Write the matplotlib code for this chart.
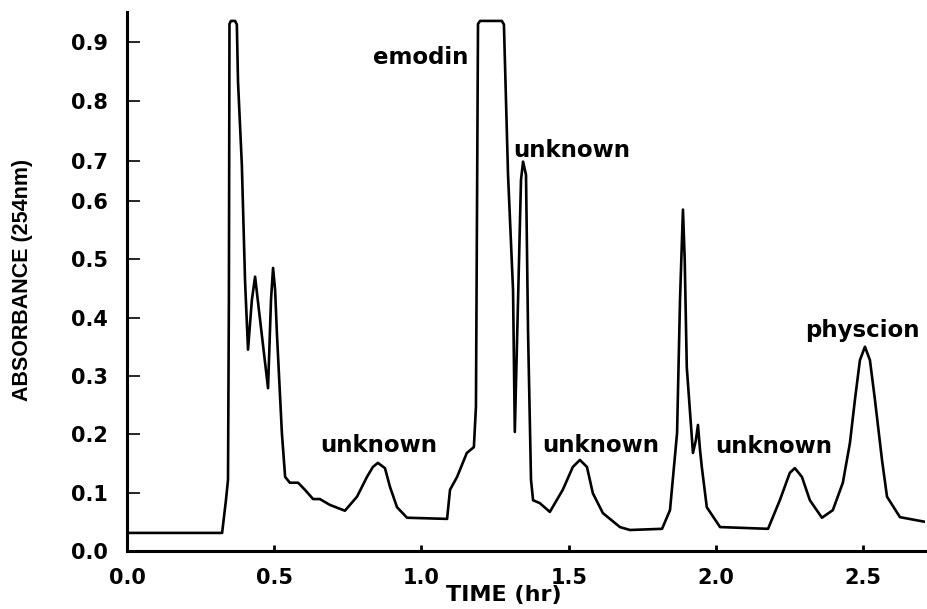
import numpy as np
import matplotlib
matplotlib.use("Agg")
import matplotlib.pyplot as plt

# ---- data (time in hr, absorbance) ----
time_hr = [0.000, 0.323, 0.336, 0.343, 0.346, 0.348, 0.353, 0.367, 0.373, 0.377,
           0.390, 0.401, 0.411, 0.424, 0.435, 0.448, 0.479, 0.489, 0.496, 0.503,
           0.509, 0.526, 0.537, 0.553, 0.581, 0.604, 0.632, 0.655, 0.689, 0.740,
           0.781, 0.815, 0.835, 0.852, 0.876, 0.893, 0.917, 0.951, 1.087, 1.097,
           1.121, 1.154, 1.178, 1.185, 1.192, 1.199, 1.273, 1.280, 1.294, 1.311,
           1.317, 1.328, 1.338, 1.345, 1.355, 1.362, 1.372, 1.379, 1.402, 1.436,
           1.480, 1.514, 1.538, 1.562, 1.582, 1.616, 1.674, 1.708, 1.817, 1.844,
           1.868, 1.878, 1.888, 1.894, 1.901, 1.922, 1.932, 1.939, 1.946, 1.952,
           1.969, 2.014, 2.177, 2.217, 2.251, 2.268, 2.292, 2.319, 2.360, 2.397,
           2.431, 2.455, 2.472, 2.489, 2.506, 2.523, 2.540, 2.564, 2.581, 2.625,
           2.710]
absorbance = [0.031, 0.031, 0.087, 0.122, 0.430, 0.930, 0.935, 0.935, 0.929, 0.833,
              0.690, 0.461, 0.345, 0.430, 0.470, 0.413, 0.279, 0.430, 0.485, 0.447,
              0.374, 0.202, 0.127, 0.117, 0.117, 0.105, 0.089, 0.089, 0.079, 0.069,
              0.093, 0.127, 0.144, 0.151, 0.142, 0.110, 0.075, 0.057, 0.055, 0.105,
              0.127, 0.168, 0.178, 0.247, 0.930, 0.935, 0.935, 0.929, 0.665, 0.447,
              0.204, 0.430, 0.652, 0.698, 0.665, 0.374, 0.122, 0.087, 0.082, 0.067,
              0.105, 0.144, 0.156, 0.144, 0.099, 0.065, 0.041, 0.036, 0.038, 0.070,
              0.202, 0.430, 0.585, 0.499, 0.315, 0.168, 0.190, 0.216, 0.173, 0.144,
              0.075, 0.041, 0.038, 0.087, 0.134, 0.142, 0.127, 0.087, 0.057, 0.070,
              0.117, 0.185, 0.259, 0.327, 0.350, 0.327, 0.259, 0.156, 0.093, 0.058,
              0.050]

peak_labels = ["unknown", "emodin", "unknown", "unknown", "unknown", "physcion"]
label_time = [0.655, 1.158, 1.311, 1.409, 1.997, 2.302]
label_abs = [0.170, 0.863, 0.707, 0.170, 0.168, 0.367]
label_ha = ["left", "right", "left", "left", "left", "left"]

x_ticks = [0.0, 0.5, 1.0, 1.5, 2.0, 2.5]
y_ticks = [0.0, 0.1, 0.2, 0.3, 0.4, 0.5, 0.6, 0.7, 0.8, 0.9]

# The printed axis is not uniform above 0.6: piecewise-linear scale
_v = [-1.0, 0.0, 0.6, 0.7, 0.9, 2.0]
_p = [-583.3, 0.0, 350.0, 390.0, 509.0, 1163.5]

def fwd(v):
    return np.interp(v, _v, _p)

def inv(p):
    return np.interp(p, _p, _v)

BOLD = dict(family="DejaVu Sans", weight="bold")

fig = plt.figure(figsize=(9.28, 6.09), dpi=100)
ax = fig.add_axes([127 / 928, 58 / 609, 798 / 928, 539 / 609])
ax.set_yscale("function", functions=(fwd, inv))
ax.plot(time_hr, absorbance, color="black", lw=1.9, solid_joinstyle="round")

ax.set_xlim(0, 2.71)
ax.set_ylim(0, 0.95)
ax.set_xticks(x_ticks)
ax.set_xticklabels([f"{t:.1f}" for t in x_ticks], fontsize=15, **BOLD)
ax.set_yticks(y_ticks)
ax.set_yticklabels([f"{t:.1f}" for t in y_ticks], fontsize=15, **BOLD)
ax.yaxis.set_minor_locator(matplotlib.ticker.NullLocator())

for s in ["top", "right"]:
    ax.spines[s].set_visible(False)
for s in ["left", "bottom"]:
    ax.spines[s].set_linewidth(2.2)
ax.tick_params(axis="y", direction="in", length=9, width=1.2, pad=14)
ax.tick_params(axis="x", direction="in", length=4, width=2, pad=12)

ax.set_xlabel("TIME (hr)", fontsize=16, **BOLD)
ax.xaxis.set_label_coords(0.472, -0.064)
ax.set_ylabel("ABSORBANCE (254nm)", fontsize=15.5,
              family="Liberation Sans", weight="bold")
ax.yaxis.set_label_coords(-0.118, 0.503)

for txt, t, a, ha in zip(peak_labels, label_time, label_abs, label_ha):
    ax.text(t, a, txt, ha=ha, va="baseline", fontsize=16.5, **BOLD)

fig.savefig("out.png", dpi=100)
